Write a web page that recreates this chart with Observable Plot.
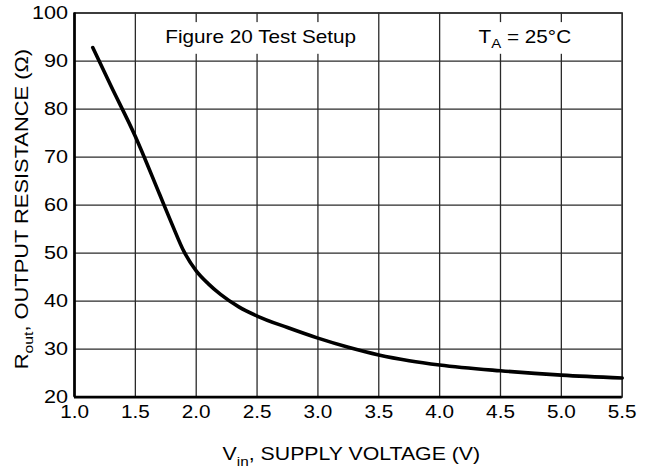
<!DOCTYPE html>
<html>
<head>
<meta charset="utf-8">
<script src="https://cdn.jsdelivr.net/npm/d3@7"></script>
<script src="https://cdn.jsdelivr.net/npm/@observablehq/plot@0.6"></script>
<style>
  html, body { margin: 0; padding: 0; background: white; }
  svg { display: block; }
</style>
</head>
<body>
<div id="chart"></div>
<script>
// ---- Data ----
const vin  = [1.15, 1.3, 1.5, 1.7, 1.8, 1.9, 2.0, 2.1, 2.2, 2.35, 2.5, 2.75, 3.0, 3.25, 3.5, 3.75, 4.0, 4.5, 5.0, 5.5];
const rout = [92.8, 84.8, 74.3, 62.2, 56.1, 50.3, 46.3, 43.6, 41.4, 38.8, 36.9, 34.5, 32.3, 30.4, 28.8, 27.6, 26.7, 25.5, 24.6, 24.0];

const xTicks = [1.0, 1.5, 2.0, 2.5, 3.0, 3.5, 4.0, 4.5, 5.0, 5.5];
const yTicks = [20, 30, 40, 50, 60, 70, 80, 90, 100];

const xLabel = "V{in}, SUPPLY VOLTAGE (V)";
const yLabel = "R{out}, OUTPUT RESISTANCE (Ω)";

const noteTexts = ["Figure 20 Test Setup", "T{A} = 25°C"];
const noteX     = [2.53, 4.70];
const noteY     = [95, 95];
const noteBoxX1 = [1.65, 4.2];
const noteBoxX2 = [3.35, 5.3];
const noteBoxY1 = [91.4, 91.4];
const noteBoxY2 = [98.0, 98.0];

// ---- Build tables ----
const curve = vin.map((v, i) => ({v, r: rout[i]}));
const notes = noteTexts.map((t, i) => ({t, x: noteX[i], y: noteY[i], x1: noteBoxX1[i], x2: noteBoxX2[i], y1: noteBoxY1[i], y2: noteBoxY2[i]}));

const FONT = "'Liberation Sans', Arial, Helvetica, sans-serif";
const GRID = "#2a2a2a";

const svg = Plot.plot({
  width: 650,
  height: 471,
  marginLeft: 74,
  marginRight: 28.3,
  marginTop: 12.5,
  marginBottom: 74.3,
  style: {fontFamily: FONT, fontSize: "18px", color: "black", background: "white"},
  x: {domain: [1, 5.5], ticks: xTicks, tickFormat: d3.format(".1f")},
  y: {domain: [20, 100], ticks: yTicks},
  marks: [
    Plot.ruleX(xTicks, {stroke: GRID, strokeWidth: 1.3}),
    Plot.ruleY(yTicks, {stroke: GRID, strokeWidth: 1.3}),
    Plot.rect(notes, {x1: "x1", x2: "x2", y1: "y1", y2: "y2", fill: "white"}),
    Plot.frame({stroke: GRID, strokeWidth: 1.3}),
    Plot.ruleX([1], {stroke: "black", strokeWidth: 2.7}),
    Plot.ruleY([20], {stroke: "black", strokeWidth: 2.7}),
    Plot.line(curve, {x: "v", y: "r", curve: "monotone-x", stroke: "black", strokeWidth: 3.6}),
    Plot.text(notes, {x: "x", y: "y", text: "t", fontSize: 18.5, fill: "black", lineAnchor: "middle"}),
    Plot.axisX(xTicks, {tickSize: 0, tickPadding: 8.5, fontSize: 18, label: null, tickFormat: d3.format(".1f")}),
    Plot.axisY(yTicks, {tickSize: 0, tickPadding: 6.5, fontSize: 18, label: null}),
    Plot.text([xLabel], {text: d => d, frameAnchor: "bottom", textAnchor: "middle", dy: 57, dx: 3, fontSize: 19, lineAnchor: "middle", fill: "black"}),
    Plot.text([yLabel], {text: d => d, frameAnchor: "left", textAnchor: "middle", rotate: -90, dx: -53, dy: 4, fontSize: 19, lineAnchor: "middle", fill: "black"})
  ]
});

document.getElementById("chart").appendChild(svg);

// ---- Post-process: subscripts and horizontal glyph widening ----
const NS = "http://www.w3.org/2000/svg";
svg.querySelectorAll("text").forEach(el => {
  const t = el.textContent;
  if (!t.includes("{")) return;
  const fs = parseFloat(getComputedStyle(el).fontSize) || 18;
  const shift = (0.28 * fs).toFixed(2);
  el.textContent = "";
  let shifted = false;
  for (const p of t.split(/(\{[^}]*\})/)) {
    if (!p) continue;
    const ts = document.createElementNS(NS, "tspan");
    if (p.startsWith("{")) {
      ts.textContent = p.slice(1, -1);
      ts.setAttribute("font-size", (0.72 * fs).toFixed(2));
      ts.setAttribute("dy", shift);
      shifted = true;
    } else {
      ts.textContent = p;
      if (shifted) { ts.setAttribute("dy", "-" + shift); shifted = false; }
    }
    el.appendChild(ts);
  }
});

svg.querySelectorAll("text").forEach(el => {
  const g = el.closest("g[aria-label]");
  const lab = g ? g.getAttribute("aria-label") : "";
  const txt = el.textContent;
  let f = 1.12;
  if (lab.includes("y-axis tick")) f = 1.2;
  else if (lab.includes("x-axis tick")) f = 1.15;
  else if (txt.includes("RESISTANCE")) f = 1.15;
  else if (txt.includes("SUPPLY")) f = 1.12;
  const len = el.getComputedTextLength();
  if (len > 0) {
    const L = len * f;
    const anchor = getComputedStyle(el).textAnchor;
    const x0 = parseFloat(el.getAttribute("x")) || 0;
    // position explicitly from the start so the anchor stays exact after widening
    el.setAttribute("text-anchor", "start");
    el.setAttribute("x", (anchor === "middle" ? x0 - L / 2 : anchor === "end" ? x0 - L : x0).toFixed(2));
    el.setAttribute("textLength", L.toFixed(2));
    el.setAttribute("lengthAdjust", "spacingAndGlyphs");
  }
});
</script>
</body>
</html>
